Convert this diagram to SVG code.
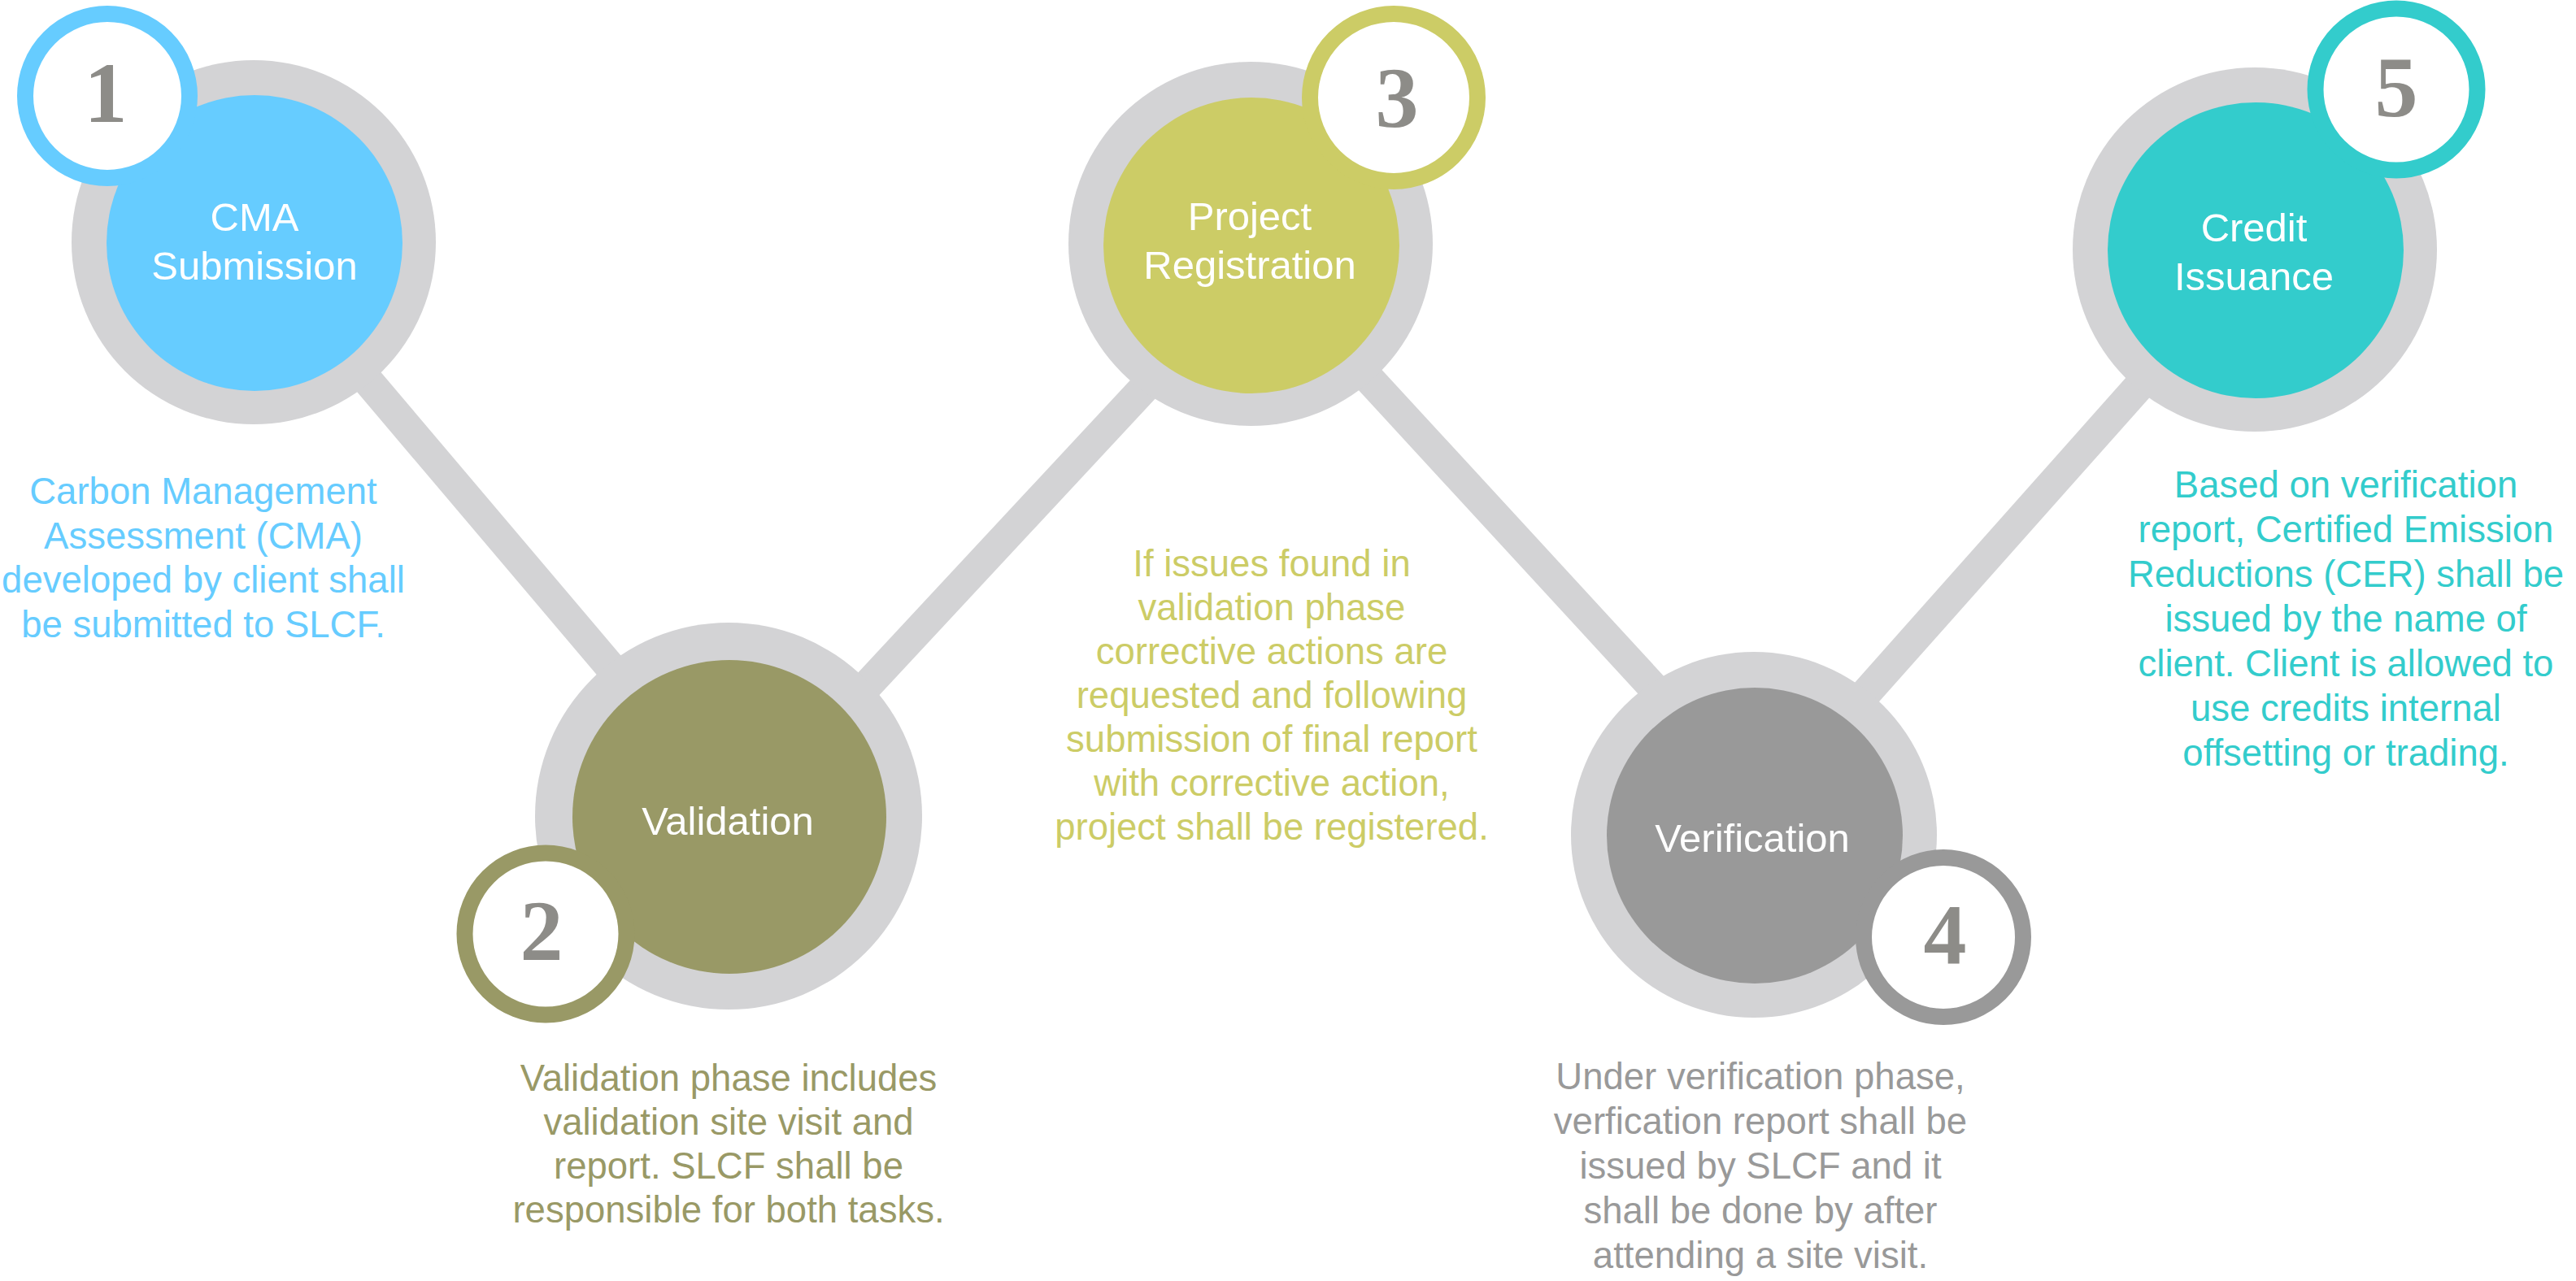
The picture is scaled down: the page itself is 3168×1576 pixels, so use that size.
<svg xmlns="http://www.w3.org/2000/svg" width="3168" height="1576" viewBox="0 0 3168 1576">
<style>
.ring{fill:#d3d3d5}
.conn{stroke:#d3d3d5;stroke-width:38;fill:none}
.badge{fill:#ffffff;stroke-width:20}
.num{font-family:"Liberation Serif","Times New Roman",serif;font-weight:bold;font-size:106px;fill:#8d8c88;text-anchor:middle}
.lbl{font-family:"Liberation Sans",Arial,sans-serif;font-size:49px;fill:#ffffff;text-anchor:middle}
.desc{font-family:"Liberation Sans",Arial,sans-serif;font-size:45.5px;text-anchor:middle}
</style>
<rect width="3168" height="1576" fill="#ffffff"/>
<g id="connectors">
<line class="conn" x1="308" y1="298" x2="906" y2="1004"/>
<line class="conn" x1="917" y1="1004" x2="1572" y2="300"/>
<line class="conn" x1="1531" y1="300" x2="2200" y2="1027"/>
<line class="conn" x1="2140" y1="1027" x2="2780" y2="307"/>
</g>
<g id="node-1">
<circle class="ring" cx="312" cy="298" r="224"/>
<circle cx="313" cy="299" r="182" fill="#66ccff"/>
<text class="lbl" x="313" y="284">CMA</text>
<text class="lbl" x="313" y="344">Submission</text>
<circle class="badge" cx="132" cy="118" r="101" stroke="#66ccff"/>
<text class="num" x="130" y="150">1</text>
<text class="desc" fill="#66ccff" x="250"><tspan x="250" y="620">Carbon Management</tspan><tspan x="250" y="675">Assessment (CMA)</tspan><tspan x="250" y="729">developed by client shall</tspan><tspan x="250" y="784">be submitted to SLCF.</tspan></text>
</g>
<g id="node-2">
<circle class="ring" cx="896" cy="1004" r="238"/>
<circle cx="897" cy="1005" r="193" fill="#999966"/>
<text class="lbl" x="895" y="1027">Validation</text>
<circle class="badge" cx="671" cy="1149" r="99.5" stroke="#999966" stroke-width="21"/>
<text class="num" x="666" y="1181">2</text>
<text class="desc" fill="#999966"><tspan x="896" y="1342">Validation phase includes</tspan><tspan x="896" y="1396">validation site visit and</tspan><tspan x="896" y="1450">report. SLCF shall be</tspan><tspan x="896" y="1504">responsible for both tasks.</tspan></text>
</g>
<g id="node-3">
<circle class="ring" cx="1538" cy="300" r="224"/>
<circle cx="1539" cy="302" r="182" fill="#cccc66"/>
<text class="lbl" x="1537" y="283">Project</text>
<text class="lbl" x="1537" y="343">Registration</text>
<circle class="badge" cx="1714" cy="120" r="103" stroke="#cccc66"/>
<text class="num" x="1718" y="156">3</text>
<text class="desc" fill="#cccc66"><tspan x="1564" y="709">If issues found in</tspan><tspan x="1564" y="763">validation phase</tspan><tspan x="1564" y="817">corrective actions are</tspan><tspan x="1564" y="871">requested and following</tspan><tspan x="1564" y="925">submission of final report</tspan><tspan x="1564" y="979">with corrective action,</tspan><tspan x="1564" y="1033">project shall be registered.</tspan></text>
</g>
<g id="node-4">
<circle class="ring" cx="2157" cy="1027" r="225"/>
<circle cx="2158" cy="1028" r="182" fill="#999999"/>
<text class="lbl" x="2155" y="1048">Verification</text>
<circle class="badge" cx="2390" cy="1153" r="98" stroke="#999999"/>
<text class="num" x="2392" y="1186">4</text>
<text class="desc" fill="#999999"><tspan x="2165" y="1340">Under verification phase,</tspan><tspan x="2165" y="1395">verfication report shall be</tspan><tspan x="2165" y="1450">issued by SLCF and it</tspan><tspan x="2165" y="1505">shall be done by after</tspan><tspan x="2165" y="1560">attending a site visit.</tspan></text>
</g>
<g id="node-5">
<circle class="ring" cx="2773" cy="307" r="224"/>
<circle cx="2774" cy="308" r="182" fill="#33cccc"/>
<text class="lbl" x="2772" y="297">Credit</text>
<text class="lbl" x="2772" y="357">Issuance</text>
<circle class="badge" cx="2947" cy="110" r="99.5" stroke="#33cccc" stroke-width="21"/>
<text class="num" x="2947" y="143">5</text>
<text class="desc" fill="#33cccc"><tspan x="2885" y="612">Based on verification</tspan><tspan x="2885" y="667">report, Certified Emission</tspan><tspan x="2885" y="722">Reductions (CER) shall be</tspan><tspan x="2885" y="777">issued by the name of</tspan><tspan x="2885" y="832">client. Client is allowed to</tspan><tspan x="2885" y="887">use credits internal</tspan><tspan x="2885" y="942">offsetting or trading.</tspan></text>
</g>
</svg>
